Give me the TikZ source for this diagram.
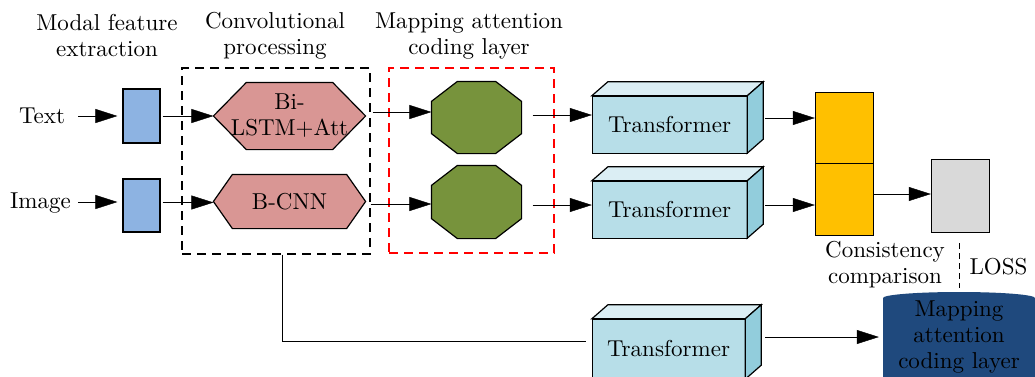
\documentclass[tikz,border=0pt]{standalone}
\usepackage{fontspec}
\setmainfont{lmroman10-regular.otf}
\usetikzlibrary{arrows.meta,calc,backgrounds}
\definecolor{featblue}{HTML}{8DB3E2}
\definecolor{hexpink}{HTML}{D99694}
\definecolor{octgreen}{HTML}{77933C}
\definecolor{tfront}{HTML}{B7DEE8}
\definecolor{ttop}{HTML}{DBEEF4}
\definecolor{tside}{HTML}{92CDDC}
\definecolor{cyell}{HTML}{FFC000}
\definecolor{lgray}{HTML}{D9D9D9}
\definecolor{mapblue}{HTML}{1F497D}
\newcommand{\tfaces}[1]{%
  \filldraw[fill=ttop, line width=1.2pt] (#1.north west) -- ++(16,-14) -- ($(#1.north east)+(16,-14)$) -- (#1.north east) -- cycle;
  \filldraw[fill=tside, line width=1.2pt] (#1.north east) -- ++(16,-14) -- ($(#1.south east)+(16,-14)$) -- (#1.south east) -- cycle;}
\newcommand{\octpath}[1]{%
  \filldraw[fill=octgreen, line width=1.2pt] ($(#1.north west)+(26,0)$) -- ($(#1.north east)+(-26,0)$) -- ($(#1.north east)+(0,20)$) -- ($(#1.south east)+(0,-20)$) -- ($(#1.south east)+(-26,0)$) -- ($(#1.south west)+(26,0)$) -- ($(#1.south west)+(0,-20)$) -- ($(#1.north west)+(0,20)$) -- cycle;}
\newcommand{\hexpath}[2]{%
  \filldraw[fill=hexpink, line width=1.2pt] (#1.west) -- ($(#1.north west)+(#2,0)$) -- ($(#1.north east)+(-#2,0)$) -- (#1.east) -- ($(#1.south east)+(-#2,0)$) -- ($(#1.south west)+(#2,0)$) -- cycle;}
\begin{document}
\begin{tikzpicture}[x=1pt,y=-1pt,
  font=\fontsize{23}{26}\selectfont,
  line width=1.2pt,
  lbl/.style={inner sep=0pt, align=center},
  plain/.style={inner sep=0pt, align=center},
  feat/.style={draw, fill=featblue, minimum width=37, minimum height=54, inner sep=0pt},
  tbox/.style={draw, fill=tfront, minimum width=155, minimum height=57, inner sep=0pt},
  ybox/.style={draw, fill=cyell, minimum width=58, inner sep=0pt},
  arr/.style={-{Triangle[length=22pt,width=14pt]}},
  dbox/.style={draw, dash pattern=on 9pt off 6pt, line width=1.1pt, inner sep=0pt}
]
\useasboundingbox (0,0) rectangle (1035,376);
\clip (0,0) rectangle (1035,376);

% headers
\node[lbl] (hd1) at (107,36) {Modal feature\\extraction};
\node[lbl] (hd2) at (275,36) {Convolutional\\processing};
\node[lbl] (hd3) at (469,36) {Mapping attention\\coding layer};

% inputs
\node[lbl] (txt) at (42,116) {Text};
\node[lbl] (img) at (40.5,203) {Image};
\node[feat] (b1) at (141.5,116) {};
\node[feat, minimum height=53] (b2) at (141.5,205.5) {};

% dashed groups
\node[dbox, minimum width=188, minimum height=186] (cbox) at (276,161) {};
\node[dbox, draw=red, minimum width=165, minimum height=185] (rbox) at (471.5,160.5) {};

% hexagons
\node[plain, minimum width=151, minimum height=66] (h1) at (289.5,116) {Bi-\\LSTM+Att};
\node[plain, minimum width=151, minimum height=53] (h2) at (289.5,201.5) {B-CNN};
% octagons
\node[plain, minimum width=89, minimum height=71] (o1) at (476.5,117.5) {};
\node[plain, minimum width=89, minimum height=72] (o2) at (476.5,202) {};
\begin{pgfonlayer}{background}
  \hexpath{h1}{33}
  \hexpath{h2}{19}
  \octpath{o1}
  \octpath{o2}
\end{pgfonlayer}

% transformers
\node[tbox] (T1) at (669.5,124.5) {Transformer};
\node[tbox] (T2) at (669.5,209.5) {Transformer};
\node[tbox, minimum width=153, minimum height=60] (T3) at (668.5,349) {Transformer};
\tfaces{T1}
\tfaces{T2}
\tfaces{T3}

% consistency blocks
\node[ybox, minimum height=71] (Y1) at (844,127.5) {};
\node[ybox, minimum height=72] (Y2) at (844,199) {};
\node[draw, fill=lgray, minimum width=58, minimum height=73, inner sep=0pt] (G) at (960,195.5) {};

% mapping cylinder
\fill[mapblue] (883,380) -- (883,298) arc[start angle=180, end angle=360, x radius=76, y radius=6] -- (1035,380) -- cycle;
\node[plain, minimum width=152] (map) at (959,337) {Mapping\\attention\\coding layer};

% labels
\node[lbl] (cons) at (885,265) {Consistency\\comparison};
\node[lbl] (loss) at (998.5,267) {LOSS};
\draw[line width=1pt, dash pattern=on 6pt off 4pt] (959,243) -- (959,288);

% connectors
\draw[arr] ($(txt.east)+(12.5,0)$) -- ($(b1.west)+(-5,0)$);
\draw[arr] ($(img.east)+(7,-1)$) -- ($(b2.west)+(-5,-3.5)$);
\draw[arr] ($(b1.east)+(2,0)$) -- (h1.west);
\draw[arr] ($(b2.east)+(2,-3)$) -- ($(h2.west)+(0,1)$);
\draw[arr] ($(h1.east)+(7,-4)$) -- ($(o1.west)+(0,-5.5)$);
\draw[arr] ($(h2.east)+(5,2.5)$) -- ($(o2.west)+(0,2)$);
\draw[arr] ($(o1.east)+(11,-2.5)$) -- ($(T1.west)+(0,-9.5)$);
\draw[arr] ($(o2.east)+(11,3)$) -- ($(T2.west)+(0,-4.5)$);
\draw[arr] ($(T1.east)+(18,-6.5)$) -- ($(Y1.west)+(0,-9.5)$);
\draw[arr] ($(T2.east)+(18,-4.5)$) -- ($(Y2.west)+(0,6)$);
\draw[arr] ($(Y2.east)+(0,-5)$) -- ($(G.west)+(0,-1.5)$);
\draw[arr] ($(T3.east)+(20,-12)$) -- ($(map.west)+(-4,0)$);
\coordinate (j) at (282,341);
\draw (cbox.south -| j) -- (j) -- ($(j -| T3.west)+(-6,0)$);
\end{tikzpicture}
\end{document}
